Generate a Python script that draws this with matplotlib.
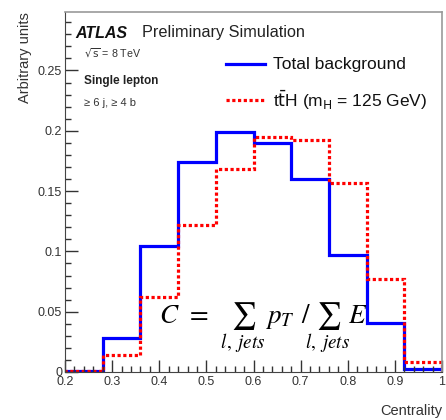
import matplotlib
matplotlib.use("Agg")
import matplotlib.pyplot as plt
import numpy as np
from matplotlib.ticker import MultipleLocator, FuncFormatter

plt.rcParams['font.family'] = ['Liberation Sans', 'DejaVu Sans']
plt.rcParams['mathtext.fontset'] = 'stix'

bin_edges = [0.2, 0.28, 0.36, 0.44, 0.52, 0.60, 0.68, 0.76, 0.84, 0.92, 1.0]
background = [0.0008, 0.028, 0.1045, 0.174, 0.1987, 0.190, 0.1603, 0.0967, 0.0403, 0.0022]
tth = [0.0005, 0.0144, 0.0625, 0.122, 0.168, 0.1946, 0.1926, 0.157, 0.077, 0.0085]

YMAX = 0.2985
fig = plt.figure(figsize=(4.46, 4.2), dpi=100)
ax = fig.add_axes([65/446, 48/420, 377/446, 360/420])

ax.stairs(background, bin_edges, color='#0000ff', lw=2.3)
ax.stairs(tth, bin_edges, color='#ff0000', lw=2.3, linestyle=(0, (1.0, 0.8)))

ax.set_xlim(0.2, 1.0)
ax.set_ylim(0, YMAX)
ax.xaxis.set_major_locator(MultipleLocator(0.1))
ax.xaxis.set_minor_locator(MultipleLocator(0.02))
ax.yaxis.set_major_locator(MultipleLocator(0.05))
ax.yaxis.set_minor_locator(MultipleLocator(0.01))
fmt = FuncFormatter(lambda v, p: ('%g' % round(v, 3)))
ax.xaxis.set_major_formatter(fmt)
ax.yaxis.set_major_formatter(fmt)
ax.tick_params(which='both', direction='in', top=False, right=False, colors='#333333',
               labelsize=9, labelcolor='#333333')
ax.tick_params(which='major', length=9, width=1)
ax.tick_params(which='minor', length=4.5, width=1)
ax.tick_params(axis='x', pad=3)
ax.tick_params(axis='y', pad=2)
for s in ['left', 'bottom']:
    ax.spines[s].set_color('#444444')
for s in ['top', 'right']:
    ax.spines[s].set_color('#999999')
    ax.spines[s].set_linewidth(1.2)

ax.set_xlabel('Centrality', fontsize=10.5, color='#333333')
ax.xaxis.set_label_coords(1.0, -0.09)
ax.xaxis.label.set_ha('right')
ax.set_ylabel('Arbitrary units', fontsize=10.5, color='#333333')
ax.yaxis.set_label_coords(-0.125, 1.0)
ax.yaxis.label.set_va('top')
ax.yaxis.label.set_ha('right')

# ATLAS label
fig.text(75/446, 1 - 33/420, 'ATLAS', fontsize=11.5, fontweight='bold', fontstyle='italic',
         va='center', ha='left', color='#111111')
fig.text(142/446, 1 - 33/420, 'Preliminary Simulation', fontsize=11.7,
         va='center', ha='left', color='#222222')
fig.text(84/446, 1 - 53/420, r'$\sqrt{\mathrm{s}}$ = 8 TeV', fontsize=7.7,
         va='center', ha='left', color='#333333', math_fontfamily='dejavusans')
fig.text(84/446, 1 - 81/420, 'Single lepton', fontsize=8.5, fontweight='bold',
         va='center', ha='left', color='#222222')
fig.text(84/446, 1 - 103/420, '≥ 6 j, ≥ 4 b', fontsize=8,
         va='center', ha='left', color='#333333')

# legend
def xd(px):
    return 0.2 + 0.8 * (px - 65) / 377

def yd(py):
    return (372 - py) / 360 * YMAX

ax.plot([xd(226), xd(265)], [yd(64)] * 2, color='#0000ff', lw=2.3, clip_on=False)
ax.plot([xd(226), xd(265)], [yd(100)] * 2, color='#ff0000', lw=2.3,
        linestyle=(0, (1.0, 0.8)), clip_on=False)
fig.text(273/446, 1 - 64/420, 'Total background', fontsize=12.5, va='center', ha='left',
         color='#111111')
fig.text(273/446, 1 - 100/420, r't$\bar{\mathrm{t}}$H (m$_{\mathrm{H}}$ = 125 GeV)', fontsize=12.5,
         va='center', ha='left', color='#111111', math_fontfamily='dejavusans')

# formula
fig.text(263/446, 1 - 328/420,
         r'$C\;\,=\;\,\sum_{l,\;jets}\,p_T\;\,/\!\sum_{l,\;jets}E$',
         fontsize=19.5, va='center', ha='center', color='black')

fig.savefig('out.png', dpi=100)
